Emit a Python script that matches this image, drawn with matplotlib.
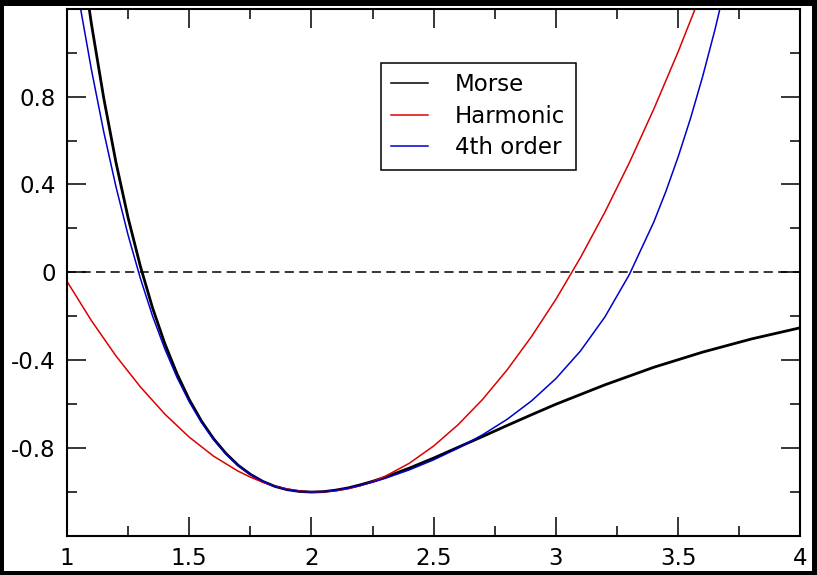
import matplotlib.pyplot as plt
from matplotlib.patches import Rectangle

# values
r_morse = [1.05, 1.10, 1.15, 1.20, 1.25, 1.30, 1.35, 1.40, 1.45, 1.50, 1.55, 1.60, 1.65, 1.70,
           1.75, 1.80, 1.85, 1.90, 1.95, 2.0, 2.05, 2.1, 2.15, 2.2, 2.25,
           2.3, 2.4, 2.5, 2.6, 2.7, 2.8, 2.9, 3.0,
           3.2, 3.4, 3.6, 3.8, 4.0]
v_morse = [1.514, 1.130, 0.795, 0.502, 0.248, 0.028, -0.162, -0.324, -0.462, -0.579, -0.677, -0.758, -0.824, -0.878,
           -0.919, -0.951, -0.974, -0.989, -0.997, -1.0, -0.998, -0.991, -0.981, -0.967, -0.951,
           -0.933, -0.891, -0.845, -0.796, -0.747, -0.697, -0.648, -0.600,
           -0.512, -0.432, -0.363, -0.303, -0.252]

r_harm = [1.0, 1.1, 1.2, 1.3, 1.4, 1.5, 1.6, 1.7, 1.75, 1.8, 1.85, 1.9, 1.95, 2.0, 2.05, 2.1, 2.15, 2.2, 2.25, 2.3,
          2.4, 2.5, 2.6, 2.7, 2.8, 2.9, 3.0, 3.1, 3.2, 3.3, 3.4, 3.5, 3.6]
v_harm = [-0.041, -0.220, -0.380, -0.521, -0.645, -0.750, -0.837, -0.905, -0.932, -0.955, -0.973, -0.986, -0.995,
          -1.000, -0.999, -0.994, -0.985, -0.971, -0.952, -0.929,
          -0.869, -0.790, -0.693, -0.578, -0.444, -0.292, -0.122, 0.067, 0.274, 0.499, 0.743, 1.005, 1.286]

r_fourth = [1.05, 1.10, 1.15, 1.20, 1.25, 1.30, 1.35, 1.40, 1.45, 1.50, 1.55, 1.60, 1.65, 1.70,
            1.75, 1.80, 1.85, 1.90, 1.95, 2.0, 2.05, 2.1, 2.15, 2.2, 2.25,
            2.3, 2.4, 2.5, 2.6, 2.7, 2.8, 2.9, 3.0, 3.1, 3.2, 3.3,
            3.4, 3.45, 3.5, 3.55, 3.6, 3.65, 3.7]
v_fourth = [1.235, 0.922, 0.641, 0.391, 0.169, -0.027, -0.199, -0.348, -0.478, -0.589, -0.683, -0.761, -0.826, -0.878,
            -0.920, -0.951, -0.974, -0.989, -0.997, -1.0, -0.998, -0.992, -0.982, -0.970, -0.955,
            -0.938, -0.899, -0.853, -0.800, -0.739, -0.669, -0.585, -0.483, -0.358, -0.203, -0.010,
            0.229, 0.370, 0.527, 0.700, 0.892, 1.104, 1.338]

labels = ["Morse", "Harmonic", "4th order"]

xticks = [1, 1.5, 2, 2.5, 3, 3.5, 4]
xtick_labels = ["1", "1.5", "2", "2.5", "3", "3.5", "4"]
xminor = [1.25, 1.75, 2.25, 2.75, 3.25, 3.75]
yticks = [-0.8, -0.4, 0, 0.4, 0.8]
ytick_labels = ["-0.8", "-0.4", "0", "0.4", "0.8"]
yminor = [-1.0, -0.6, -0.2, 0.2, 0.6, 1.0]

plt.rcParams['font.family'] = ['DejaVu Sans']
plt.rcParams['axes.unicode_minus'] = False

fig = plt.figure(figsize=(8.17, 5.75), dpi=100)
fig.patch.set_facecolor('black')
fig.add_artist(Rectangle((4 / 817, 4 / 575), 808 / 817, 565 / 575, transform=fig.transFigure,
                         facecolor='white', edgecolor='none', zorder=-1))

ax = fig.add_axes([0.0820, 0.0678, 0.8978, 0.9171])

ax.axhline(0, color='black', lw=1.1, dashes=(6, 3.5))
ax.plot(r_morse, v_morse, color='black', lw=2, label=labels[0])
ax.plot(r_harm, v_harm, color='#dd0000', lw=1.1, label=labels[1])
ax.plot(r_fourth, v_fourth, color='#0000cc', lw=1.1, label=labels[2])

ax.set_xlim(1, 4)
ax.set_ylim(-1.2, 1.2)
ax.set_xticks(xticks)
ax.set_xticklabels(xtick_labels)
ax.set_xticks(xminor, minor=True)
ax.set_yticks(yticks)
ax.set_yticklabels(ytick_labels)
ax.set_yticks(yminor, minor=True)

ax.tick_params(which='both', direction='in', top=True, right=True, width=1.1, labelsize=16.5, pad=8)
ax.tick_params(which='major', length=14)
ax.tick_params(which='minor', length=7.5)
for s in ax.spines.values():
    s.set_linewidth(1.5)

leg = ax.legend(loc='upper left', bbox_to_anchor=(0.4277, 0.8976), borderaxespad=0,
                fontsize=16.5, handlelength=1.63, handletextpad=1.17, labelspacing=0.38,
                borderpad=0.45, fancybox=False, framealpha=1, edgecolor='black')
leg.get_frame().set_linewidth(1.1)
for line in leg.get_lines():
    line.set_linewidth(1.1)

plt.savefig("out.png", dpi=100, facecolor=fig.get_facecolor())
